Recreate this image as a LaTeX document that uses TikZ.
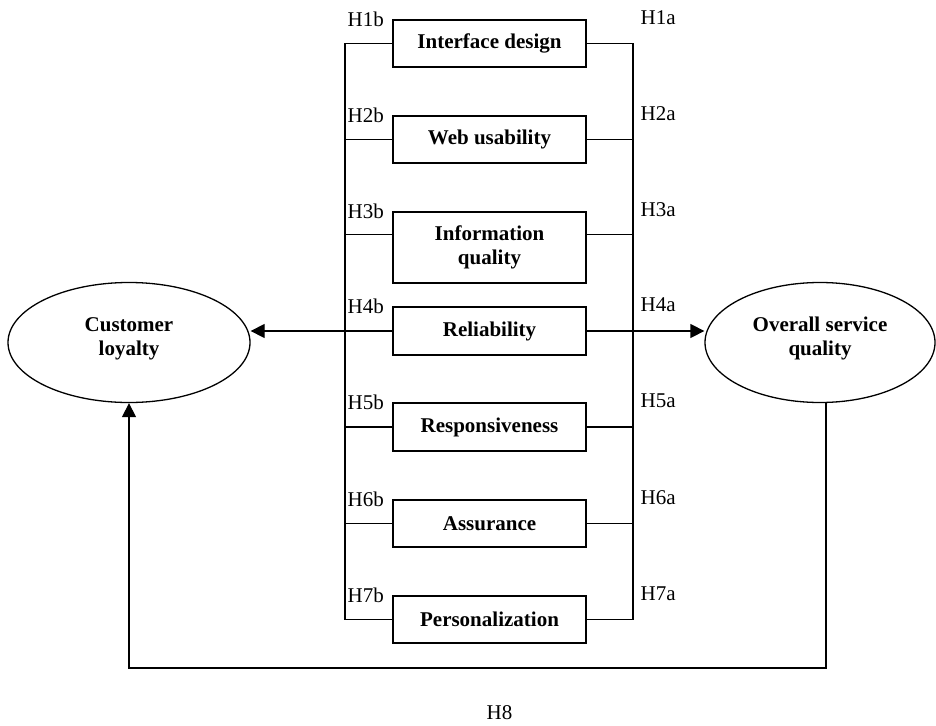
\documentclass[tikz,border=0pt]{standalone}
\usepackage{fontspec}
\setmainfont{Liberation Serif}
\usetikzlibrary{arrows.meta,shapes.geometric,calc}
\begin{document}
\begin{tikzpicture}[x=1pt,y=-1pt,
  line width=1.3pt,
  every node/.style={font=\fontsize{21}{24}\selectfont},
  factor/.style={draw,rectangle,minimum width=193pt,minimum height=47pt,inner sep=0pt,font=\fontsize{21}{24}\selectfont\bfseries,align=center},
  outcome/.style={draw,ellipse,inner sep=0pt,font=\fontsize{21}{24}\selectfont\bfseries,align=center},
  hlab/.style={anchor=base west,inner sep=0pt,font=\fontsize{21}{24}\selectfont},
  arr/.style={-{Triangle[length=14pt,width=14pt]}}]
\useasboundingbox (0,0) rectangle (936,725);

\coordinate (L) at (345,0);
\coordinate (R) at (633,0);

\node[factor] (id) at (489.5,43.5) {Interface design};
\node[factor] (wu) at (489.5,139.5) {Web usability};
\node[factor,minimum height=71pt] (iq) at (489.5,247.5) {Information\\quality};
\node[factor,minimum height=48pt] (rel) at (489.5,331) {Reliability};
\node[factor,minimum height=48pt] (resp) at (489.5,427) {Responsiveness};
\node[factor] (as) at (489.5,523.5) {Assurance};
\node[factor] (pers) at (489.5,619.5) {Personalization};

\node[outcome,minimum width=242pt,minimum height=120pt,text depth=12pt] (cl) at (129,342.5) {Customer\\loyalty};
\node[outcome,minimum width=230pt,minimum height=120pt,text depth=12pt] (osq) at (820,342.5) {Overall service\\quality};

\coordinate (iqW) at ($(iq.north west)!0.324!(iq.south west)$);
\coordinate (iqE) at ($(iq.north east)!0.324!(iq.south east)$);

% left bus
\draw (id.west -| L) -- (pers.west -| L);
\draw (id.west) -- (id.west -| L);
\draw (wu.west) -- (wu.west -| L);
\draw (iqW) -- (iqW -| L);
\draw (resp.west) -- (resp.west -| L);
\draw (as.west) -- (as.west -| L);
\draw (pers.west) -- (pers.west -| L);
% right bus
\draw (id.east -| R) -- (pers.east -| R);
\draw (id.east) -- (id.east -| R);
\draw (wu.east) -- (wu.east -| R);
\draw (iqE) -- (iqE -| R);
\draw (resp.east) -- (resp.east -| R);
\draw (as.east) -- (as.east -| R);
\draw (pers.east) -- (pers.east -| R);

% main arrows
\draw[arr] (rel.west) -- (cl.east |- rel.west);
\draw[arr] (rel.east) -- (osq.west |- rel.east);

% H8 loop
\coordinate (b1) at (826,668);
\coordinate (b2) at (129,668);
\draw[arr] ([xshift=6pt]osq.south) -- ([xshift=6pt]osq.south |- b1) -- (b2) -- (cl.south);

% labels
\foreach \n/\k in {id/1,wu/2,iq/3,rel/4,resp/5,as/6,pers/7}{
  \node[hlab] (lb\k) at ($(\n.north west -| L)+(2,7)$) {H\k b};
  \node[hlab] (la\k) at ($(\n.north east -| R)+(7,5)$) {H\k a};
}
\node[anchor=base,inner sep=0pt] (h8) at (499.5,719) {H8};
\end{tikzpicture}
\end{document}
